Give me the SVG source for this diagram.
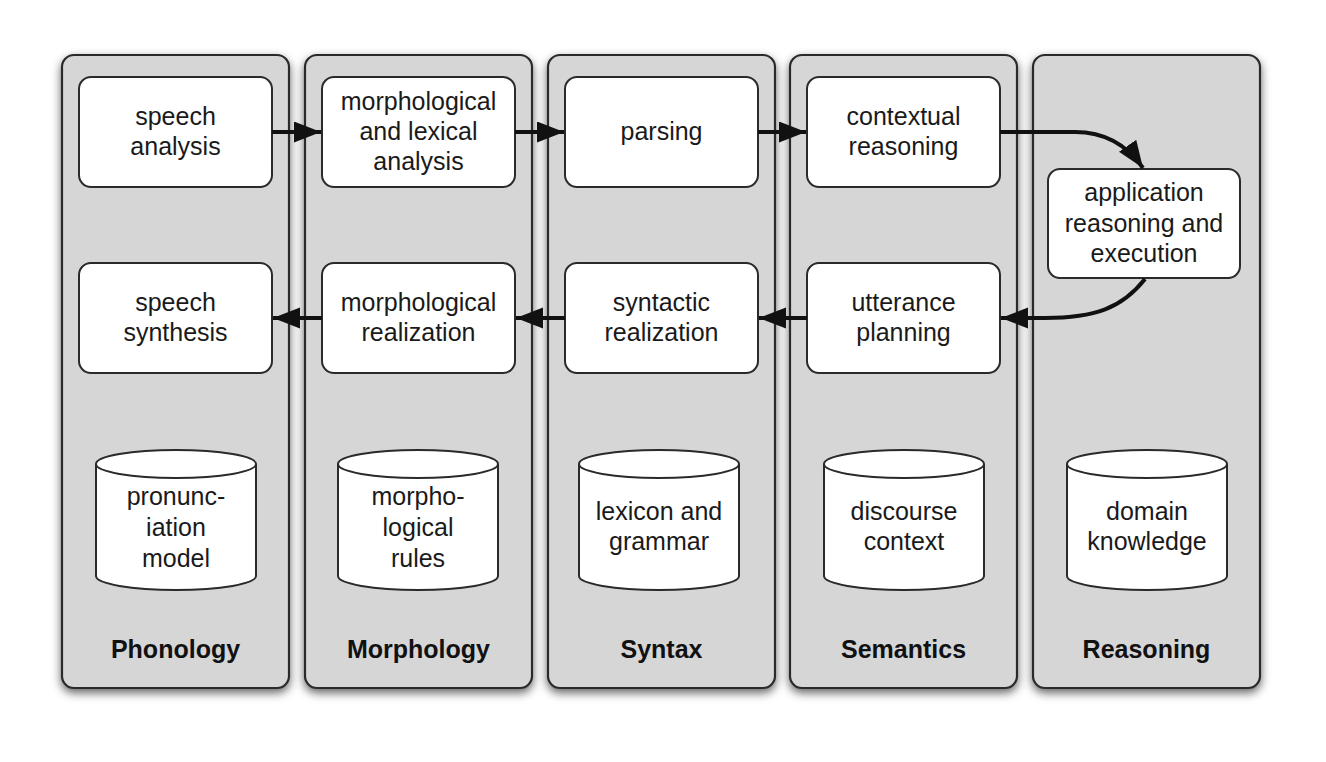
<svg xmlns="http://www.w3.org/2000/svg" width="1326" height="762" viewBox="0 0 1326 762">
<defs>
<filter id="sh" x="-15%" y="-10%" width="130%" height="125%">
<feDropShadow dx="0" dy="4" stdDeviation="5" flood-color="#000" flood-opacity="0.6"/>
</filter>
<marker id="ah" markerUnits="userSpaceOnUse" markerWidth="30" markerHeight="22" refX="27" refY="10.5" orient="auto">
<path d="M0,0 L27,10.5 L0,21 Z" fill="#111"/>
</marker>
<style>
.col{fill:#d6d6d6;stroke:#2a2a2a;stroke-width:2.2}
.box{fill:#fff;stroke:#2a2a2a;stroke-width:2}
.cyl{fill:#fff;stroke:#2a2a2a;stroke-width:2}
.t{font-family:"Liberation Sans",Arial,sans-serif;font-size:25px;fill:#1a1a1a;text-anchor:middle}
.lbl{font-family:"Liberation Sans",Arial,sans-serif;font-size:25px;font-weight:bold;fill:#111;text-anchor:middle}
.con{fill:none;stroke:#111;stroke-width:4;marker-end:url(#ah)}
</style>
</defs>
<rect width="1326" height="762" fill="#fff"/>

<g id="col-phonology">
<rect class="col" x="62" y="55" width="227" height="633" rx="12" filter="url(#sh)"/>
<text class="lbl" x="175.5" y="658">Phonology</text>
</g>
<g id="col-morphology">
<rect class="col" x="305" y="55" width="227" height="633" rx="12" filter="url(#sh)"/>
<text class="lbl" x="418.5" y="658">Morphology</text>
</g>
<g id="col-syntax">
<rect class="col" x="548" y="55" width="227" height="633" rx="12" filter="url(#sh)"/>
<text class="lbl" x="661.5" y="658">Syntax</text>
</g>
<g id="col-semantics">
<rect class="col" x="790" y="55" width="227" height="633" rx="12" filter="url(#sh)"/>
<text class="lbl" x="903.5" y="658">Semantics</text>
</g>
<g id="col-reasoning">
<rect class="col" x="1033" y="55" width="227" height="633" rx="12" filter="url(#sh)"/>
<text class="lbl" x="1146.5" y="658">Reasoning</text>
</g>

<g id="speech-analysis">
<rect class="box" x="79" y="77" width="193" height="110" rx="12"/>
<text class="t" x="175.5" y="125">speech</text>
<text class="t" x="175.5" y="155">analysis</text>
</g>
<g id="morph-lexical-analysis">
<rect class="box" x="322" y="77" width="193" height="110" rx="12"/>
<text class="t" x="418.5" y="110">morphological</text>
<text class="t" x="418.5" y="140">and lexical</text>
<text class="t" x="418.5" y="170">analysis</text>
</g>
<g id="parsing">
<rect class="box" x="565" y="77" width="193" height="110" rx="12"/>
<text class="t" x="661.5" y="140">parsing</text>
</g>
<g id="contextual-reasoning">
<rect class="box" x="807" y="77" width="193" height="110" rx="12"/>
<text class="t" x="903.5" y="125">contextual</text>
<text class="t" x="903.5" y="155">reasoning</text>
</g>
<g id="application-reasoning">
<rect class="box" x="1048" y="169" width="192" height="109" rx="12"/>
<text class="t" x="1144" y="201">application</text>
<text class="t" x="1144" y="232">reasoning and</text>
<text class="t" x="1144" y="262">execution</text>
</g>

<g id="speech-synthesis">
<rect class="box" x="79" y="263" width="193" height="110" rx="12"/>
<text class="t" x="175.5" y="311">speech</text>
<text class="t" x="175.5" y="341">synthesis</text>
</g>
<g id="morph-realization">
<rect class="box" x="322" y="263" width="193" height="110" rx="12"/>
<text class="t" x="418.5" y="311">morphological</text>
<text class="t" x="418.5" y="341">realization</text>
</g>
<g id="syntactic-realization">
<rect class="box" x="565" y="263" width="193" height="110" rx="12"/>
<text class="t" x="661.5" y="311">syntactic</text>
<text class="t" x="661.5" y="341">realization</text>
</g>
<g id="utterance-planning">
<rect class="box" x="807" y="263" width="193" height="110" rx="12"/>
<text class="t" x="903.5" y="311">utterance</text>
<text class="t" x="903.5" y="341">planning</text>
</g>

<g id="db-pronunciation">
<path class="cyl" d="M96,464 V576 A80,14 0 0 0 256,576 V464"/>
<ellipse class="cyl" cx="176" cy="464" rx="80" ry="14"/>
<text class="t" x="176" y="505">pronunc-</text>
<text class="t" x="176" y="536">iation</text>
<text class="t" x="176" y="567">model</text>
</g>
<g id="db-morph-rules">
<path class="cyl" d="M338,464 V576 A80,14 0 0 0 498,576 V464"/>
<ellipse class="cyl" cx="418" cy="464" rx="80" ry="14"/>
<text class="t" x="418" y="505">morpho-</text>
<text class="t" x="418" y="536">logical</text>
<text class="t" x="418" y="567">rules</text>
</g>
<g id="db-lexicon">
<path class="cyl" d="M579,464 V576 A80,14 0 0 0 739,576 V464"/>
<ellipse class="cyl" cx="659" cy="464" rx="80" ry="14"/>
<text class="t" x="659" y="520">lexicon and</text>
<text class="t" x="659" y="550">grammar</text>
</g>
<g id="db-discourse">
<path class="cyl" d="M824,464 V576 A80,14 0 0 0 984,576 V464"/>
<ellipse class="cyl" cx="904" cy="464" rx="80" ry="14"/>
<text class="t" x="904" y="520">discourse</text>
<text class="t" x="904" y="550">context</text>
</g>
<g id="db-domain">
<path class="cyl" d="M1067,464 V576 A80,14 0 0 0 1227,576 V464"/>
<ellipse class="cyl" cx="1147" cy="464" rx="80" ry="14"/>
<text class="t" x="1147" y="520">domain</text>
<text class="t" x="1147" y="550">knowledge</text>
</g>

<g id="connectors">
<path class="con" d="M272,132 L321,132"/>
<path class="con" d="M515,132 L564,132"/>
<path class="con" d="M758,132 L806,132"/>
<path class="con" d="M1000,132 L1075,132 Q1118,132 1143,168"/>
<path class="con" d="M1145,279 C1122,308 1095,318 1045,318 L1001,318"/>
<path class="con" d="M807,318 L759,318"/>
<path class="con" d="M565,318 L516,318"/>
<path class="con" d="M322,318 L273,318"/>
</g>
</svg>
